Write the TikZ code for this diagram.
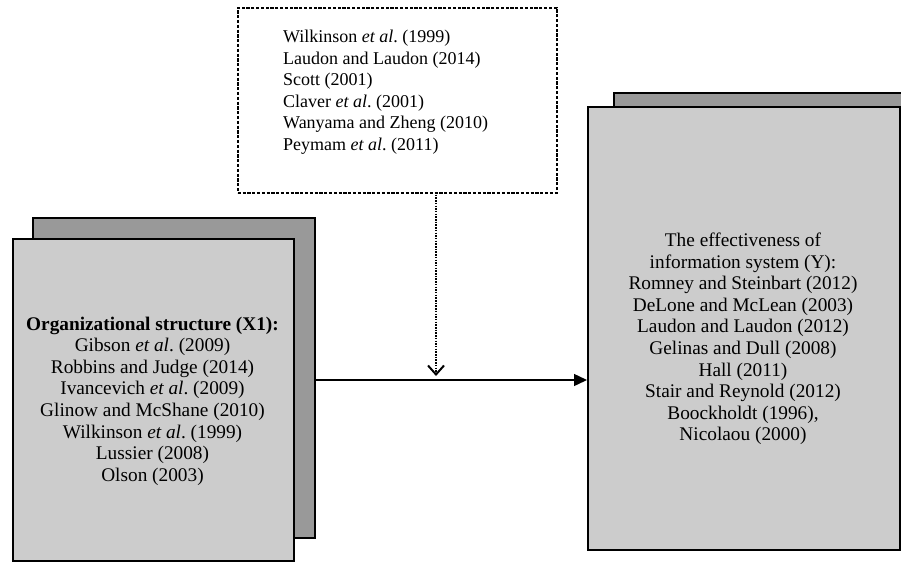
\documentclass[tikz,border=0pt]{standalone}
\usepackage{fontspec}
\setmainfont{Liberation Serif}
\usetikzlibrary{arrows.meta}
\tikzset{
  frontbox/.style={draw=black, line width=1.6pt, fill=frontgray, anchor=north west, inner sep=0pt},
  backbox/.style={draw=black, line width=1.6pt, fill=backgray, anchor=north west, inner sep=0pt},
  reftext/.style={font=\fontsize{19.3}{21.6}\selectfont, align=center, inner sep=0pt},
  smalltext/.style={font=\fontsize{18}{21.5}\selectfont, align=left, inner sep=0pt},
  refsbox/.style={draw=black, line width=1.5pt, dash pattern=on 3.2pt off 1.6pt, fill=white, anchor=north west, inner sep=0pt},
}
\definecolor{frontgray}{HTML}{CCCCCC}
\definecolor{backgray}{HTML}{999999}
\newcommand{\etal}{\textit{et al}.\ }
\begin{document}
\begin{tikzpicture}[x=1pt,y=-1pt]
\clip (0,0) rectangle (901,562);
\fill[white] (0,0) rectangle (901,562);
% left boxes
\node[backbox, minimum width=282pt, minimum height=320pt] (x1back) at (32,217) {};
\node[frontbox, minimum width=281pt, minimum height=322pt] (x1) at (12,238) {};
\node[reftext] (x1text) at (152.5,401) {\textbf{Organizational structure (X1):}\\
Gibson \etal(2009)\\
Robbins and Judge (2014)\\
Ivancevich \etal(2009)\\
Glinow and McShane (2010)\\
Wilkinson \etal(1999)\\
Lussier (2008)\\
Olson (2003)};
% right boxes
\node[backbox, minimum width=320pt, minimum height=432pt] (yback) at (613,92) {};
\node[frontbox, minimum width=312pt, minimum height=443pt] (y) at (587,106) {};
\node[reftext] (ytext) at (743,339) {The effectiveness of\\
information system (Y):\\
Romney and Steinbart (2012)\\
DeLone and McLean (2003)\\
Laudon and Laudon (2012)\\
Gelinas and Dull (2008)\\
Hall (2011)\\
Stair and Reynold (2012)\\
Boockholdt (1996),\\
Nicolaou (2000)};
% references box
\node[refsbox, minimum width=319pt, minimum height=185pt] (refs) at (237,7) {};
\node[smalltext, anchor=north west] (refstext) at (283,30) {Wilkinson \etal(1999)\\
Laudon and Laudon (2014)\\
Scott (2001)\\
Claver \etal(2001)\\
Wanyama and Zheng (2010)\\
Peymam \etal(2011)};
% connectors
\coordinate (start) at (314,380);
\coordinate (drop) at (436,192);
\coordinate (tip) at (436,376);
\draw[line width=1.4pt, -{Triangle[length=13pt,width=12pt]}] (start) -- (start -| y.west);
\draw[line width=1.4pt, dash pattern=on 1.5pt off 1.2pt, -{Straight Barb[length=9pt,width=16pt,line width=2pt]}] (drop) -- (tip);
\end{tikzpicture}
\end{document}
